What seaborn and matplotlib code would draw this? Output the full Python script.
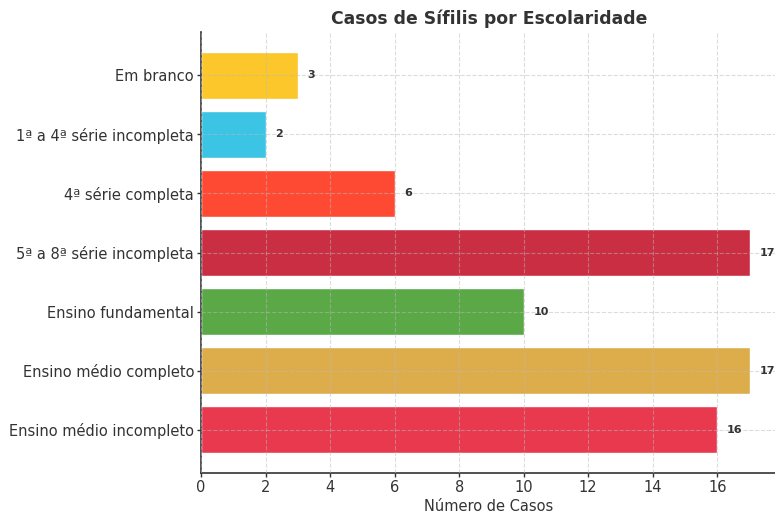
import matplotlib
matplotlib.use("Agg")
import matplotlib.pyplot as plt
import seaborn as sns
import pandas as pd

# ----- DONNÉES -----
categorias = [
    "Em branco",
    "1ª a 4ª série incompleta",
    "4ª série completa",
    "5ª a 8ª série incompleta",
    "Ensino fundamental",
    "Ensino médio completo",
    "Ensino médio incompleto",
]
casos = [3, 2, 6, 17, 10, 17, 16]
cores = ["#FCC72A", "#3BC4E3", "#FF4A33", "#CA2E42", "#5BA846", "#DDAD4C", "#E8394F"]

df = pd.DataFrame({"Escolaridade": categorias, "Casos": casos})

# ----- STYLE -----
sns.set_theme(style="white")
plt.rcParams["font.family"] = ["DejaVu Sans"]

fig = plt.figure(figsize=(7.75, 5.13), dpi=100)
ax = fig.add_axes([201 / 775, 1 - 473 / 513, 576 / 775, 441 / 513])

sns.barplot(
    data=df,
    x="Casos",
    y="Escolaridade",
    hue="Escolaridade",
    palette=cores,
    orient="h",
    width=0.8,
    saturation=1,
    legend=False,
    ax=ax,
)

# valeurs à droite des barres
for i, v in enumerate(casos):
    ax.text(v + 0.3, i, str(v), va="center", ha="left",
            fontsize=8, fontweight="bold", color="#333333")

ax.set_xlim(0, 17.85)
ax.set_ylim(6.73, -0.73)
ax.set_xticks(range(0, 17, 2))

ax.grid(True, linestyle="--", linewidth=0.8, color="#BBBBBB", alpha=0.5)
ax.set_axisbelow(False)

for s in ["top", "right"]:
    ax.spines[s].set_visible(False)
for s in ["left", "bottom"]:
    ax.spines[s].set_color("#333333")
    ax.spines[s].set_linewidth(1.2)

ax.tick_params(axis="both", labelsize=10.5, colors="#333333", length=3, width=1,
               pad=2, left=True, bottom=True)
ax.set_xlabel("Número de Casos", fontsize=10.5, color="#333333", labelpad=3)
ax.set_ylabel("")
ax.set_title("Casos de Sífilis por Escolaridade", fontsize=12.4, fontweight="bold",
             color="#333333", pad=6)

fig.savefig("out.png", dpi=100)
